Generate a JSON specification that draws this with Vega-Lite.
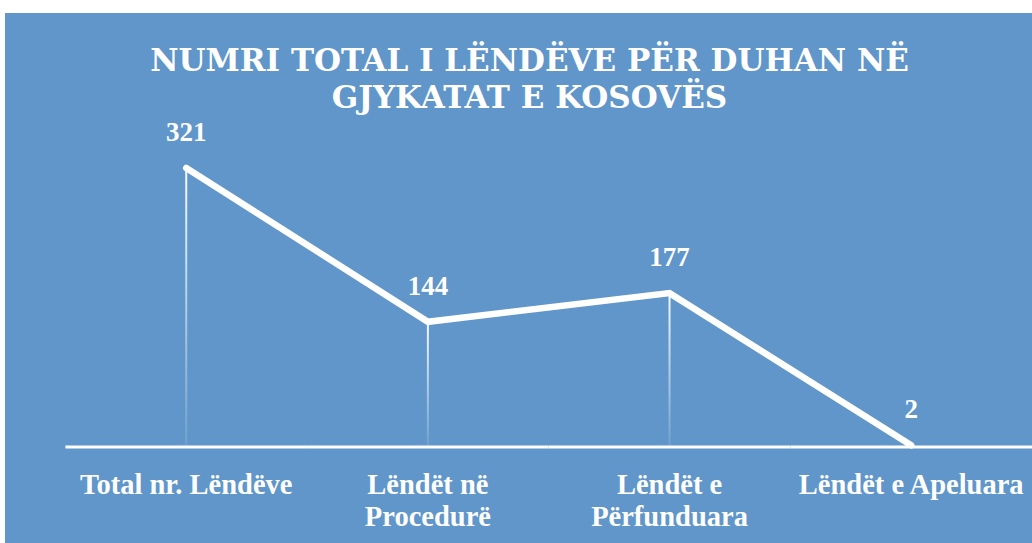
{
  "$schema": "https://vega.github.io/schema/vega-lite/v6.json",
  "width": 1027,
  "height": 530,
  "autosize": {"type": "none"},
  "padding": {"left": 5, "top": 13, "right": 0, "bottom": 0},
  "background": "white",
  "config": {"view": {"fill": "#6096c9", "stroke": null}},
  "title": {
    "text": ["NUMRI TOTAL I LËNDËVE PËR DUHAN NË", "GJYKATAT E KOSOVËS"],
    "anchor": "middle",
    "frame": "group",
    "offset": -126,
    "baseline": "alphabetic",
    "font": "DejaVu Serif",
    "fontSize": 31,
    "fontWeight": "bold",
    "color": "white",
    "lineHeight": 37,
    "dx": 11
  },
  "data": {
    "values": [
      {"kategoria": "Total nr. Lëndëve", "numri": 321},
      {"kategoria": "Lëndët në Procedurë", "numri": 144},
      {"kategoria": "Lëndët e Përfunduara", "numri": 177},
      {"kategoria": "Lëndët e Apeluara", "numri": 2}
    ]
  },
  "encoding": {
    "x": {
      "field": "kategoria",
      "type": "nominal",
      "sort": null,
      "scale": {"type": "band", "paddingInner": 0, "paddingOuter": 0.125, "align": 1},
      "axis": {
        "title": null,
        "orient": "bottom",
        "offset": -96,
        "domain": false,
        "ticks": false,
        "grid": false,
        "labelAngle": 0,
        "labelFont": "Liberation Serif",
        "labelFontSize": 28.5,
        "labelFontWeight": "bold",
        "labelColor": "white",
        "labelBaseline": "alphabetic",
        "labelPadding": 46,
        "labelLineHeight": 32,
        "labelOverlap": false,
        "labelBound": false,
        "labelFlush": false,
        "labelLimit": 0,
        "labelExpr": "datum.label == 'Lëndët në Procedurë' ? ['Lëndët në', 'Procedurë'] : datum.label == 'Lëndët e Përfunduara' ? ['Lëndët e', 'Përfunduara'] : datum.label"
      }
    },
    "y": {
      "field": "numri",
      "type": "quantitative",
      "scale": {"domain": [-110.3, 499.1], "nice": false, "zero": false},
      "axis": null
    }
  },
  "layer": [
    {
      "mark": {
        "type": "bar",
        "width": 2,
        "color": {
          "gradient": "linear",
          "x1": 0, "y1": 0, "x2": 0, "y2": 1,
          "stops": [
            {"offset": 0, "color": "rgba(255,255,255,0.95)"},
            {"offset": 1, "color": "rgba(255,255,255,0.1)"}
          ]
        }
      },
      "encoding": {"y2": {"datum": 0}}
    },
    {
      "mark": {"type": "bar", "width": {"band": 1}, "fill": null, "stroke": "white", "strokeWidth": 3},
      "encoding": {
        "y": {"datum": 0},
        "y2": {"datum": 0}
      }
    },
    {
      "mark": {"type": "line", "color": "white", "strokeWidth": 6.5, "strokeCap": "round", "strokeJoin": "miter"}
    },
    {
      "mark": {
        "type": "text",
        "color": "white",
        "font": "Liberation Serif",
        "fontSize": 27,
        "fontWeight": "bold",
        "baseline": "alphabetic",
        "dy": -27
      },
      "encoding": {"text": {"field": "numri", "type": "quantitative"}}
    }
  ]
}
